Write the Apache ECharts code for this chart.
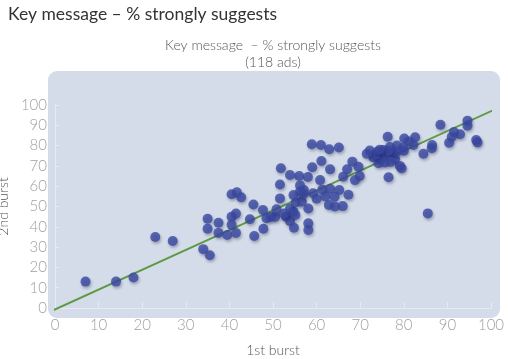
<!DOCTYPE html>
<html>
<head>
<meta charset="utf-8">
<script src="https://cdn.jsdelivr.net/npm/echarts@6/dist/echarts.min.js"></script>
<style>html,body{margin:0;padding:0;background:#fff}#c{width:508px;height:359px}</style>
</head>
<body>
<div id="c"></div>
<script>
var titleText = "Key message \u2013 % strongly suggests";
var subtitleText = "Key message  \u2013 % strongly suggests\n(118 ads)";
var xName = "1st burst";
var yName = "2nd burst";
var xTicks = [0,10,20,30,40,50,60,70,80,90,100];
var yTicks = [0,10,20,30,40,50,60,70,80,90,100];
var firstBurst = [7,14,18,23,27,34,35.5,35,35,37.5,37.5,39.5,40.5,41.5,40.5,41.5,40.5,41.7,42.7,44.7,45.5,45.7,47.7,47.8,48.5,49.5,50.5,50.8,51.6,51.6,51.8,53,53.9,53.9,54.8,54.7,55.1,54.7,55.2,56.6,58.1,58.1,58.1,56,58,53.9,60.8,56.2,56.2,57.1,59.2,61.3,63.1,65.2,67.3,60,62,64.1,62.8,64.2,66,58.9,61,62.9,65.1,61.1,63.1,68.2,67,69.6,69.9,68.8,66.1,59,76.3,80.1,82.6,81.2,78.4,79.9,76.8,82.2,75.3,72.2,73.9,77.6,75.3,73,74.5,76,78,74.2,75.7,79.1,79.5,76.5,84.5,86.5,86.4,88.4,94.6,94.6,91.5,92.9,91,90.4,96.6,96.9,85.5,78.4,73.5,76.5,74.5,77,71.5,57,52.5,80];
var secondBurst = [13,13,15,35,33,29,26,44,39,42,37,36,45,46.5,41,37,56,57,54.5,43.7,51,35.5,48.3,39,44.2,45,45,48.6,54,60.8,68.8,45,42.8,49,39.5,47.4,45.8,55.7,52,52.4,49,41.7,38.4,65,64.5,65.5,63,60.4,57.3,58.1,56.5,58.3,58.7,58.1,55.8,53.8,55,54.8,50.7,50,50.2,80.7,80.3,78.2,79.1,72.4,68.3,72.1,68.3,69.6,65,63,64.7,69.3,84.4,83.5,84.1,82,80,79,79.3,80.3,77.8,77.6,77,76.2,76.2,74.2,73.3,74.5,73.3,71.3,71.7,70,68.8,64.4,76,80.3,78.7,90.3,92.3,89.8,86.7,85.6,84.4,81.4,82.8,81.6,46.6,77,75.5,77.5,78,72,76,56,46.5,77.5];
var fitX = [-1.8, 101.8];
var fitY = [-2.5, 98.7];

var pts = firstBurst.map(function(v,i){return [v, secondBurst[i]];});
var fit = fitX.map(function(v,i){return [v, fitY[i]];});

var chart = echarts.init(document.getElementById('c'));
var labelFont = {color:'#a0a0a0', fontSize:15, fontFamily:'Lato', fontWeight:300};
chart.setOption({
  animation:false,
  title:[
    {text:titleText, left:8, top:5, padding:0, textStyle:{fontFamily:'Lato', fontSize:17.5, fontWeight:'normal', color:'#333'}},
    {text:subtitleText, left:273, top:37, padding:0, textAlign:'center', textStyle:{fontFamily:'Lato', fontSize:14, fontWeight:300, color:'#555', lineHeight:17, align:'center'}}
  ],
  graphic:[{type:'rect', z:-10, shape:{x:48,y:71,width:452,height:247,r:9}, style:{fill:'#d4dcea'}, silent:true}],
  grid:{left:55, right:17, top:105, bottom:51, containLabel:false, outerBoundsMode:'none'},
  xAxis:{type:'value', min:0, max:100, interval:10, name:xName, nameLocation:'middle', nameGap:35,
    nameTextStyle:{color:'#555', fontSize:14, fontFamily:'Lato', fontWeight:300},
    axisLine:{show:true, lineStyle:{color:'#e6ebf3', width:1}},
    axisTick:{show:true, inside:true, length:6, lineStyle:{color:'#e6ebf3'}},
    axisLabel:Object.assign({margin:10, formatter:function(v){return xTicks.indexOf(v)>=0?String(v):'';}}, labelFont),
    splitLine:{show:false}},
  yAxis:{type:'value', min:0, max:100, interval:10, name:yName, nameLocation:'middle', nameGap:38, nameRotate:90,
    nameTextStyle:{color:'#555', fontSize:14, fontFamily:'Lato', fontWeight:300},
    axisLine:{show:true, lineStyle:{color:'#e6ebf3', width:1}},
    axisTick:{show:true, inside:true, length:4, lineStyle:{color:'#e6ebf3'}},
    axisLabel:Object.assign({margin:8, formatter:function(v){return yTicks.indexOf(v)>=0?String(v):'';}}, labelFont),
    splitLine:{show:false}},
  series:[
    {type:'line', data:fit, clip:false, symbol:'none', z:3, lineStyle:{color:'#5f9a45', width:2}},
    {type:'scatter', data:pts, symbolSize:10, z:4,
      itemStyle:{color:'#3a48a2', shadowBlur:3, shadowColor:'rgba(0,0,40,0.35)', shadowOffsetX:1, shadowOffsetY:2}}
  ]
});
</script>
</body>
</html>
